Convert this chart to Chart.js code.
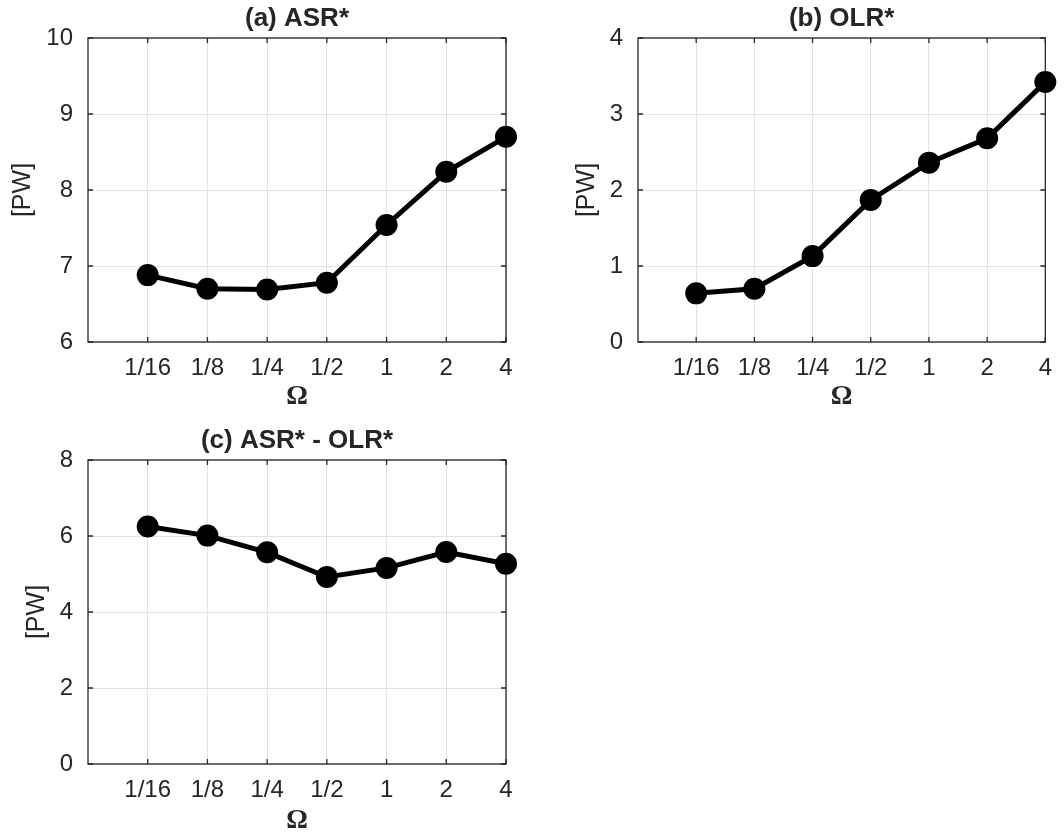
<!DOCTYPE html>
<html>
<head>
<meta charset="utf-8">
<script src="https://cdn.jsdelivr.net/npm/chart.js@4.4.1/dist/chart.umd.min.js"></script>
<style>
  body { margin: 0; background: #fff; width: 1064px; height: 837px; position: relative; overflow: hidden; }
  canvas { position: absolute; }
</style>
</head>
<body>
<canvas id="chartA" width="532" height="415" style="left:0;top:0"></canvas>
<canvas id="chartB" width="514" height="415" style="left:550px;top:0"></canvas>
<canvas id="chartC" width="532" height="415" style="left:0;top:422px"></canvas>
<script>
// rotation rate categories (x axis)
const omegaLabels = ["1/16", "1/8", "1/4", "1/2", "1", "2", "4"];

// values, in PW
const asrValues = [6.88, 6.70, 6.69, 6.78, 7.54, 8.24, 8.70];
const olrValues = [0.64, 0.70, 1.13, 1.87, 2.36, 2.68, 3.42];
const diffValues = [6.25, 6.01, 5.57, 4.92, 5.16, 5.58, 5.27];

// y tick values per panel
const asrTicks = [6, 7, 8, 9, 10];
const olrTicks = [0, 1, 2, 3, 4];
const diffTicks = [0, 2, 4, 6, 8];

const textColor = "#262626";
const sans = "'Liberation Sans', Arial, Helvetica, sans-serif";

// box around the axes with small inward ticks, like the original figure
const axesBox = {
  id: "axesBox",
  beforeDatasetsDraw(chart) {
    const { ctx, chartArea: a, scales: { x, y } } = chart;
    ctx.save();
    ctx.strokeStyle = textColor;
    ctx.lineWidth = 1.3;
    ctx.strokeRect(a.left, a.top, a.right - a.left, a.bottom - a.top);
    ctx.beginPath();
    x.ticks.forEach(t => {
      const px = x.getPixelForValue(t.value);
      ctx.moveTo(px, a.bottom); ctx.lineTo(px, a.bottom - 5);
      ctx.moveTo(px, a.top); ctx.lineTo(px, a.top + 5);
    });
    y.ticks.forEach(t => {
      const py = y.getPixelForValue(t.value);
      ctx.moveTo(a.left, py); ctx.lineTo(a.left + 5, py);
      ctx.moveTo(a.right, py); ctx.lineTo(a.right - 5, py);
    });
    ctx.stroke();
    ctx.restore();
  }
};

function makePanel(id, title, values, yTicks, ylabelPad, rightPad, omegaPad) {
  const canvas = document.getElementById(id);
  if (!canvas || typeof Chart === "undefined") return;

  return new Chart(canvas.getContext("2d"), {
    type: "line",
    data: {
      datasets: [{
        data: values.map((v, i) => ({ x: i + 1, y: v })),
        borderColor: "#000",
        borderWidth: 5,
        pointRadius: 11,
        pointBackgroundColor: "#000",
        pointBorderWidth: 0,
        tension: 0,
        clip: false
      }]
    },
    options: {
      responsive: false,
      animation: false,
      layout: { padding: { left: 0, top: 0, right: rightPad, bottom: 0 } },
      plugins: {
        legend: { display: false },
        tooltip: { enabled: false },
        title: {
          display: true,
          fullSize: false, // center over the plot area, not the canvas
          text: title,
          color: textColor,
          font: { family: sans, size: 26, weight: "bold", lineHeight: 1.2 },
          padding: { top: 3.5, bottom: 3.3 }
        }
      },
      scales: {
        x: {
          type: "linear",
          min: 0,
          max: omegaLabels.length,
          afterBuildTicks: s => { s.ticks = omegaLabels.map((_, i) => ({ value: i + 1 })); },
          afterFit: s => { s.height = 73; },
          grid: { color: "#e3e3e3", lineWidth: 1, drawTicks: false },
          border: { display: false },
          ticks: {
            color: textColor,
            padding: 12,
            maxRotation: 0,
            font: { family: sans, size: 24 },
            callback: v => omegaLabels[v - 1] || ""
          },
          title: {
            display: true,
            text: "Ω",
            color: textColor,
            font: { family: "'Liberation Serif', 'DejaVu Serif', serif", size: 27, weight: "bold", lineHeight: 1.2 },
            padding: { top: 0, bottom: omegaPad }
          }
        },
        y: {
          min: yTicks[0],
          max: yTicks[yTicks.length - 1],
          afterBuildTicks: s => { s.ticks = yTicks.map(v => ({ value: v })); },
          afterFit: s => { s.width = 88; },
          grid: { color: "#e3e3e3", lineWidth: 1, drawTicks: false },
          border: { display: false },
          ticks: {
            color: textColor,
            padding: 15,
            font: { family: sans, size: 24 }
          },
          title: {
            display: true,
            text: "[PW]",
            color: textColor,
            font: { family: sans, size: 25, lineHeight: 1.2 },
            padding: { top: ylabelPad, bottom: 0 }
          }
        }
      }
    },
    plugins: [axesBox]
  });
}

makePanel("chartA", "(a) ASR*", asrValues, asrTicks, 8, 26, 1.5);
makePanel("chartB", "(b) OLR*", olrValues, olrTicks, 22.5, 8, 1.5);
makePanel("chartC", "(c) ASR* - OLR*", diffValues, diffTicks, 22.5, 26, 0);
</script>
</body>
</html>
